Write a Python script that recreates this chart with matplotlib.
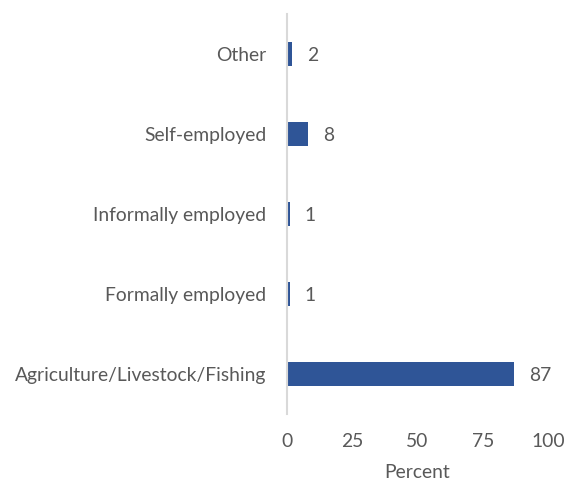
import matplotlib
matplotlib.use("Agg")
import matplotlib.pyplot as plt

categories = ["Agriculture/Livestock/Fishing", "Formally employed", "Informally employed", "Self-employed", "Other"]
values = [87, 1, 1, 8, 2]
xticks = [0, 25, 50, 75, 100]

plt.rcParams['font.family'] = ['Lato', 'DejaVu Sans']
txt = '#595959'
fs = 13.9

fig = plt.figure(figsize=(5.64, 4.82), dpi=100)
ax = fig.add_axes([287/564, 68/482, 261/564, 400/482])
ax.barh(range(len(categories)), values, height=0.31, color='#2F5597')
ax.set_ylim(-0.5, len(categories) - 0.5)
ax.set_xlim(0, 100)
ax.set_xticks(xticks)
ax.set_yticks(range(len(categories)))
ax.set_yticklabels(categories)
for s in ['top', 'right', 'bottom']:
    ax.spines[s].set_visible(False)
ax.spines['left'].set_color('#D9D9D9')
ax.spines['left'].set_linewidth(1.5)
ax.tick_params(axis='both', length=0, colors=txt, labelsize=fs)
ax.tick_params(axis='y', pad=15)
ax.tick_params(axis='x', pad=14)
for i, v in enumerate(values):
    ax.annotate(str(v), (v, i), xytext=(11, -1), textcoords='offset points',
                va='center', ha='left', color=txt, fontsize=fs)
ax.set_xlabel('Percent', color=txt, fontsize=fs, labelpad=10)
fig.savefig('out.png', dpi=100)
